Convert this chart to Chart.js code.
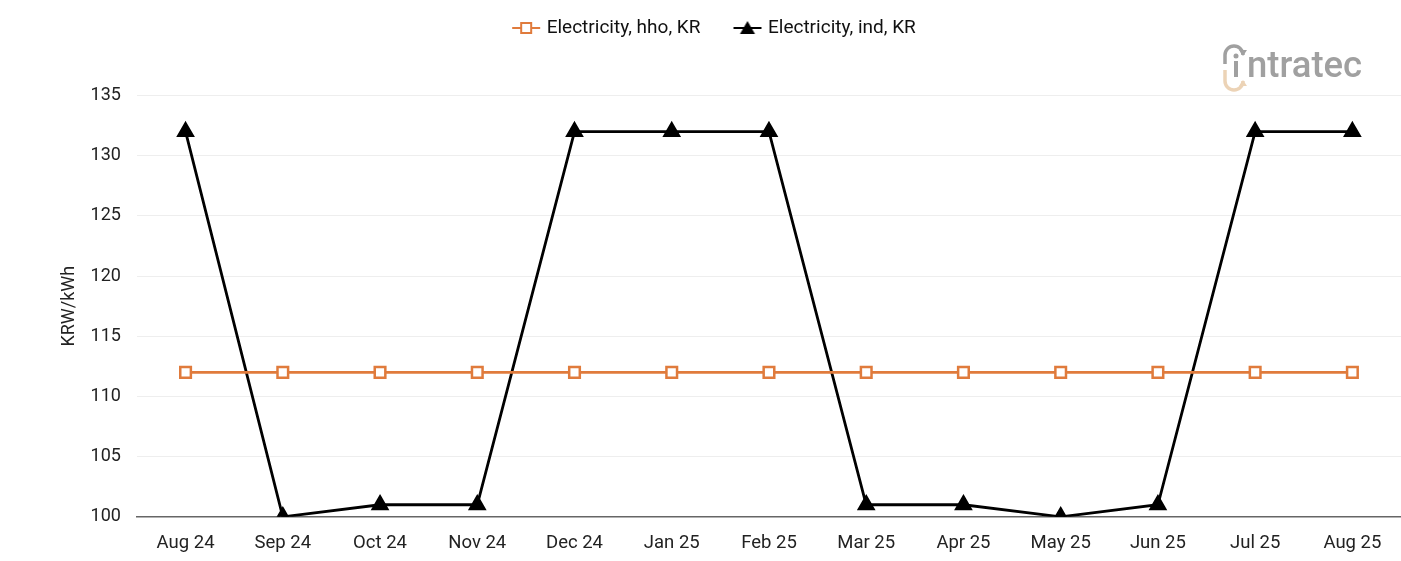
<!DOCTYPE html>
<html>
<head>
<meta charset="utf-8">
<script src="https://cdn.jsdelivr.net/npm/chart.js@4"></script>
<style>
  html, body { margin: 0; padding: 0; background: #fff; overflow: hidden; }
  #wrap { width: 1401px; height: 561px; }
</style>
</head>
<body>
<div id="wrap"><canvas id="priceChart" width="1401" height="561"></canvas></div>
<script>
const months = ['Aug 24', 'Sep 24', 'Oct 24', 'Nov 24', 'Dec 24', 'Jan 25', 'Feb 25',
                'Mar 25', 'Apr 25', 'May 25', 'Jun 25', 'Jul 25', 'Aug 25'];
const hhoPrices = [112, 112, 112, 112, 112, 112, 112, 112, 112, 112, 112, 112, 112];
const indPrices = [132, 100, 101, 101, 132, 132, 132, 101, 101, 100, 101, 132, 132];
const yTicks = { min: 100, max: 135, step: 5 };

// little legend icons: line with the marker in the middle
function legendIcon(color, style) {
    const c = document.createElement('canvas');
    c.width = 30; c.height = 18;
    const g = c.getContext('2d');
    g.strokeStyle = color;
    g.lineWidth = 2;
    g.beginPath(); g.moveTo(1, 9); g.lineTo(29, 9); g.stroke();
    if (style === 'rect') {
        g.fillStyle = '#fff';
        g.fillRect(10, 4, 10, 10);
        g.strokeRect(10, 4, 10, 10);
    } else {
        g.fillStyle = color;
        g.beginPath(); g.moveTo(15, 2); g.lineTo(22.5, 15); g.lineTo(7.5, 15); g.closePath(); g.fill();
    }
    return c;
}

// push the plot down so the top gridline sits where it does in the picture
const legendSpace = {
    id: 'legendSpace',
    beforeInit(chart) {
        const fit = chart.legend.fit;
        chart.legend.fit = function () {
            fit.bind(chart.legend)();
            this.height += 48;
        };
    }
};

const logoPlugin = {
    id: 'logo',
    afterDraw(chart) {
        const ctx = chart.ctx;
        ctx.save();
        ctx.font = '500 36.5px Roboto';
        ctx.fillStyle = '#a0a0a0';
        ctx.textBaseline = 'alphabetic';
        ctx.fillText('ntratec', 1247, 77);
        // the "i"
        ctx.fillRect(1234, 61, 4, 16);
        ctx.beginPath(); ctx.arc(1236, 56, 2.5, 0, Math.PI * 2); ctx.fill();
        ctx.lineWidth = 3.5;
        ctx.strokeStyle = '#a0a0a0';
        ctx.beginPath(); ctx.moveTo(1225, 64); ctx.lineTo(1225, 55); ctx.arc(1234, 55, 9, Math.PI, 0); ctx.stroke();
        ctx.beginPath(); ctx.moveTo(1239, 50); ctx.lineTo(1247, 50); ctx.lineTo(1243, 56); ctx.closePath(); ctx.fill();
        ctx.strokeStyle = '#ecd3b6';
        ctx.fillStyle = '#ecd3b6';
        ctx.beginPath(); ctx.moveTo(1225, 70); ctx.lineTo(1225, 81); ctx.arc(1234, 81, 9, Math.PI, 0, true); ctx.stroke();
        ctx.beginPath(); ctx.moveTo(1239, 86); ctx.lineTo(1247, 86); ctx.lineTo(1243, 80); ctx.closePath(); ctx.fill();
        ctx.restore();
    }
};

new Chart(document.getElementById('priceChart'), {
    type: 'line',
    data: {
        labels: months,
        datasets: [
            {
                label: 'Electricity, hho, KR',
                data: hhoPrices,
                borderColor: '#e07b3c',
                backgroundColor: '#ffffff',
                borderWidth: 2.8,
                pointStyle: 'rect',
                pointRadius: 7.5,
                pointBorderWidth: 2.5,
                pointBorderColor: '#e07b3c',
                pointBackgroundColor: '#ffffff',
                tension: 0
            },
            {
                label: 'Electricity, ind, KR',
                data: indPrices,
                borderColor: '#000000',
                backgroundColor: '#000000',
                borderWidth: 2.8,
                pointStyle: 'triangle',
                pointRadius: 8,
                pointBackgroundColor: '#000000',
                pointBorderColor: '#000000',
                tension: 0
            }
        ]
    },
    options: {
        responsive: false,
        animation: false,
        layout: { autoPadding: false, padding: { left: 30, right: 0, top: -17.5, bottom: 0 } },
        plugins: {
            legend: {
                position: 'top',
                labels: {
                    font: { family: 'Roboto', size: 19 },
                    color: '#111',
                    usePointStyle: true,
                    pointStyleWidth: 22,
                    padding: 36,
                    generateLabels(chart) {
                        return chart.data.datasets.map((ds, i) => ({
                            text: ds.label,
                            datasetIndex: i,
                            fontColor: '#111',
                            pointStyle: legendIcon(ds.borderColor, ds.pointStyle),
                            lineWidth: 0,
                            hidden: false
                        }));
                    }
                }
            },
            tooltip: { enabled: false }
        },
        scales: {
            x: {
                offset: true,
                grid: { display: false },
                border: { display: true, color: '#666', width: 1.5 },
                ticks: { font: { family: 'Roboto', size: 18.5 }, color: '#222', padding: 7, maxRotation: 0 }
            },
            y: {
                min: yTicks.min,
                max: yTicks.max,
                ticks: { stepSize: yTicks.step, font: { family: 'Roboto', size: 18 }, color: '#222', padding: 16 },
                grid: { color: '#eeeeee', drawTicks: false },
                border: { display: false },
                title: {
                    display: true, text: 'KRW/kWh',
                    font: { family: 'Roboto', size: 18 }, color: '#222',
                    padding: { top: 29, bottom: -6 }
                }
            }
        }
    },
    plugins: [logoPlugin, legendSpace]
});
</script>
</body>
</html>
